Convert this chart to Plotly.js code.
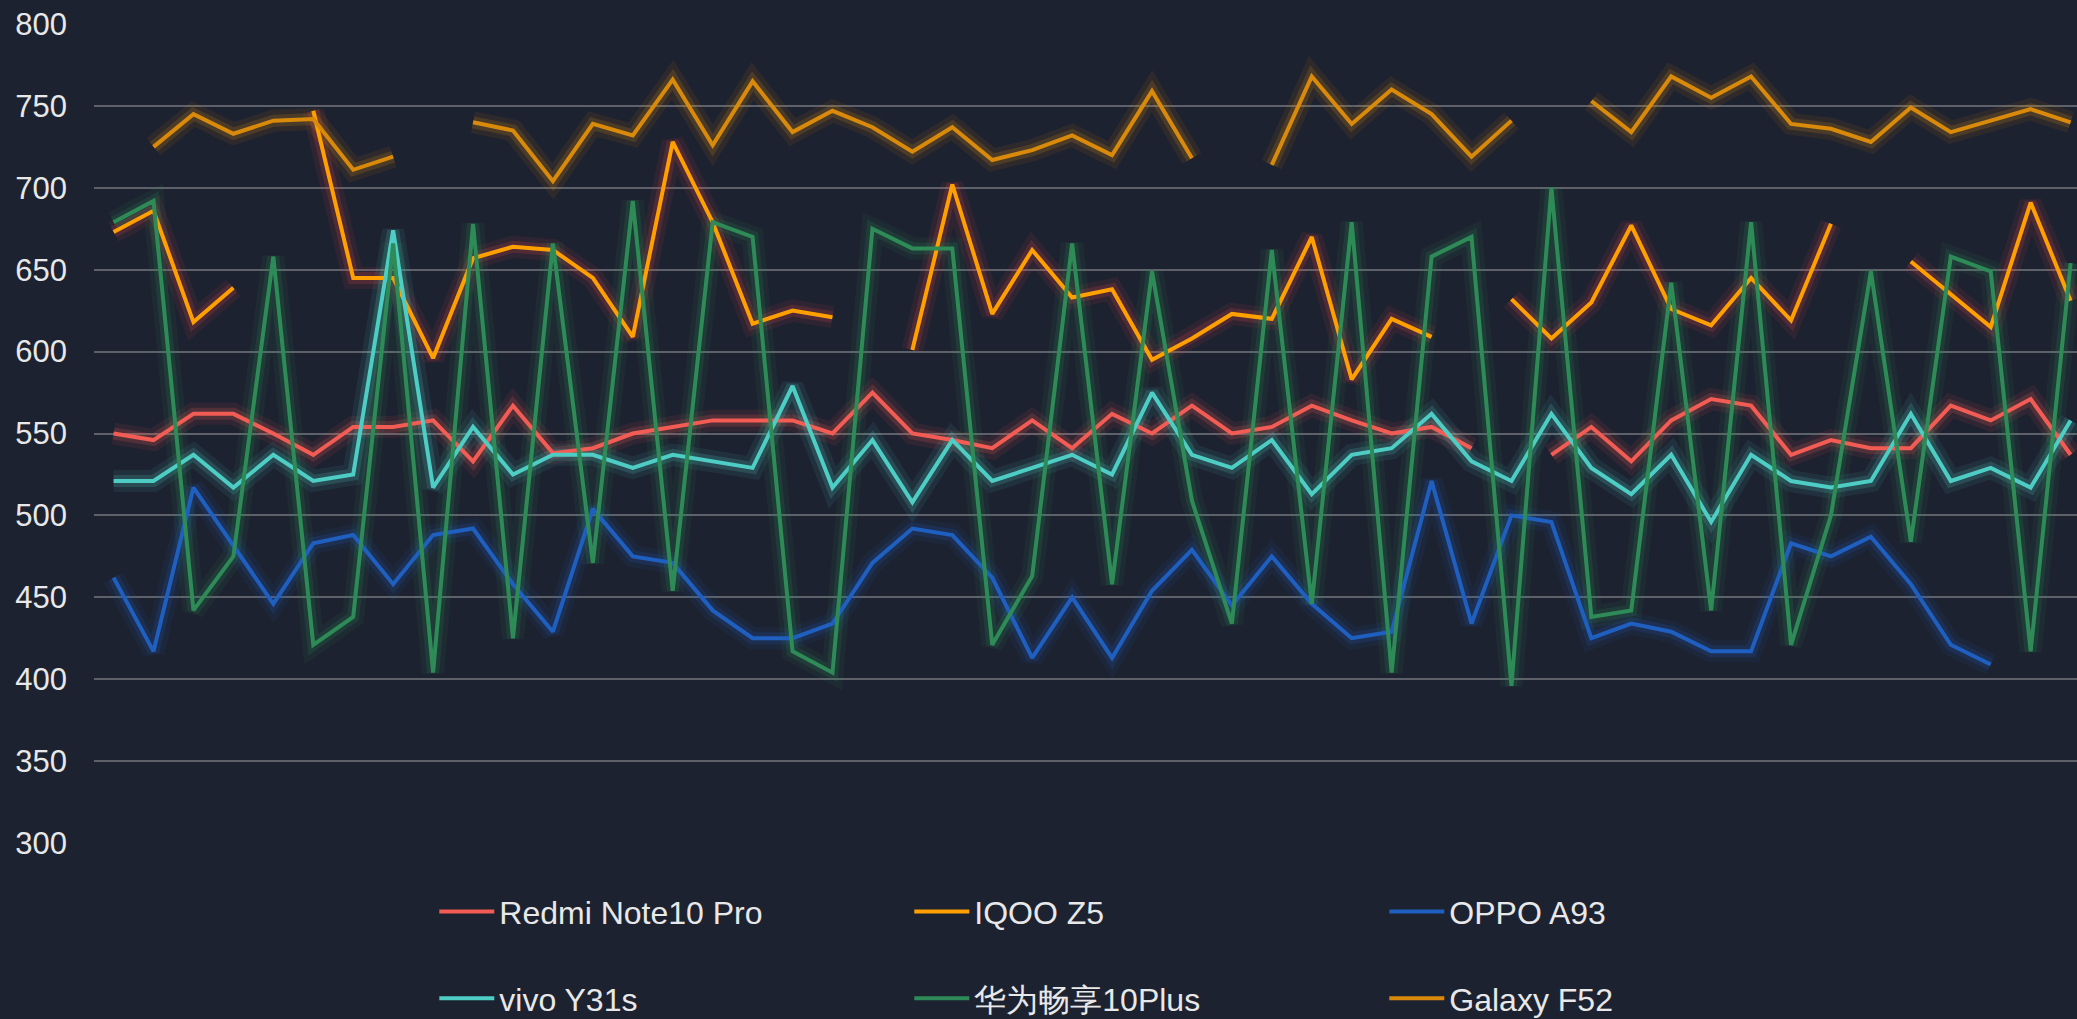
<!DOCTYPE html>
<html>
<head>
<meta charset="utf-8">
<script src="https://cdn.plot.ly/plotly-3.0.1.min.js"></script>
<style>
  html, body { margin: 0; padding: 0; background: #1d2230; overflow: hidden; }
  #chart { width: 2077px; height: 1019px; }
</style>
</head>
<body>
<div id="chart"></div>
<script>
// Categories (50 test runs, x labels not shown in the reference)
const categories = ['1','2','3','4','5','6','7','8','9','10',
  '11','12','13','14','15','16','17','18','19','20',
  '21','22','23','24','25','26','27','28','29','30',
  '31','32','33','34','35','36','37','38','39','40',
  '41','42','43','44','45','46','47','48','49','50'];

const seriesNames = ['Redmi Note10 Pro', 'IQOO Z5', 'OPPO A93', 'vivo Y31s', '华为畅享10Plus', 'Galaxy F52'];

const redmi = [550,546,562,562,550,537,554,554,558,533,567,538,
  541,550,554,558,558,558,550,575,550,546,541,558,541,
  562,550,567,550,554,567,558,550,554,541,null,537,554,
  533,558,571,567,537,546,541,541,567,558,571,537];

const iqoo = [673,686,618,639,null,747,645,645,596,657,664,662,
  645,609,728,679,617,625,621,null,601,702,623,662,633,
  638,595,608,623,620,670,583,620,609,null,632,608,630,
  677,626,616,645,619,678,null,655,635,615,691,631];

const oppo = [462,417,517,482,446,483,488,458,488,492,458,429,
  504,475,471,442,425,425,434,471,492,488,462,413,450,
  413,454,479,445,475,446,425,429,521,434,500,496,425,
  434,429,417,417,483,475,487,458,421,409,null,null];

const vivo = [521,521,537,517,537,521,525,674,517,554,525,537,
  537,529,537,533,529,579,517,546,508,546,521,529,537,
  525,575,537,529,546,513,537,541,562,533,521,562,529,
  513,537,496,537,521,517,521,562,521,529,517,558];

const huawei = [679,692,442,475,658,421,438,666,404,678,425,666,
  471,692,454,679,670,417,404,675,663,663,421,463,666,
  458,649,509,434,662,446,679,404,658,670,396,700,438,
  442,642,442,679,421,500,649,484,658,649,417,654];

const galaxy = [null,725,745,733,741,742,711,719,null,740,735,704,
  739,732,766,726,765,734,747,737,722,737,717,723,732,
  720,759,718,null,714,768,739,760,745,719,741,null,753,
  734,768,755,768,739,736,728,749,734,741,748,740];

const yTicks = [300,350,400,450,500,550,600,650,700,750,800];

const allSeries = [redmi, iqoo, oppo, vivo, huawei, galaxy];
const lineColors = ['#f25c54', '#ffa000', '#1f5fbf', '#4ecdc4', '#2e8b57', '#d98a0a'];
const glowColors = ['242,92,84', '235,70,70', '31,95,191', '78,205,196', '46,139,87', '217,138,10'];
const legendOf = ['legend', 'legend', 'legend', 'legend2', 'legend2', 'legend2'];

const traces = [];
// soft glow layers underneath
allSeries.forEach((ys, k) => {
  traces.push({
    type: 'scatter', mode: 'lines', x: categories, y: ys,
    line: {color: 'rgba(' + glowColors[k] + ',0.09)', width: 22},
    showlegend: false, hoverinfo: 'skip'
  });
  traces.push({
    type: 'scatter', mode: 'lines', x: categories, y: ys,
    line: {color: 'rgba(' + glowColors[k] + ',0.18)', width: 12},
    showlegend: false, hoverinfo: 'skip'
  });
});
// main lines
allSeries.forEach((ys, k) => {
  traces.push({
    type: 'scatter', mode: 'lines', name: seriesNames[k],
    x: categories, y: ys,
    line: {color: lineColors[k], width: 4},
    legend: legendOf[k]
  });
});

const legendCommon = {
  orientation: 'h',
  xanchor: 'left', yanchor: 'top',
  x: (439.3 - 5 - 94) / 1983,
  bgcolor: 'rgba(0,0,0,0)',
  borderwidth: 0,
  itemwidth: 55,
  entrywidth: 405,
  entrywidthmode: 'pixels',
  font: {family: 'Liberation Sans, Arial, sans-serif', size: 32, color: '#e8e8e8'},
  itemclick: false, itemdoubleclick: false
};

const layout = {
  width: 2077, height: 1019,
  paper_bgcolor: '#1d2230',
  plot_bgcolor: 'rgba(0,0,0,0)',
  margin: {l: 94, r: 0, t: 24, b: 176, pad: 0, autoexpand: false},
  font: {family: 'Liberation Sans, Arial, sans-serif', color: '#e8e8e8'},
  showlegend: true,
  xaxis: {
    type: 'category',
    range: [-0.49, 49.16],
    showgrid: false, zeroline: false, showline: false,
    showticklabels: false, ticks: ''
  },
  yaxis: {
    range: [300, 800],
    tickvals: yTicks,
    ticktext: yTicks.map(String),
    showgrid: true,
    gridcolor: 'rgba(200,200,200,0.38)',
    gridwidth: 1.5,
    zeroline: false, showline: false, ticks: '',
    ticklabelstandoff: 26,
    tickfont: {family: 'Liberation Sans, Arial, sans-serif', size: 31, color: '#e8e8e8'}
  },
  legend: Object.assign({}, legendCommon, {y: (843 - 884.3) / 819}),
  legend2: Object.assign({}, legendCommon, {y: (843 - 971) / 819})
};

Plotly.newPlot('chart', traces, layout, {displayModeBar: false, staticPlot: false, responsive: false});
</script>
</body>
</html>
